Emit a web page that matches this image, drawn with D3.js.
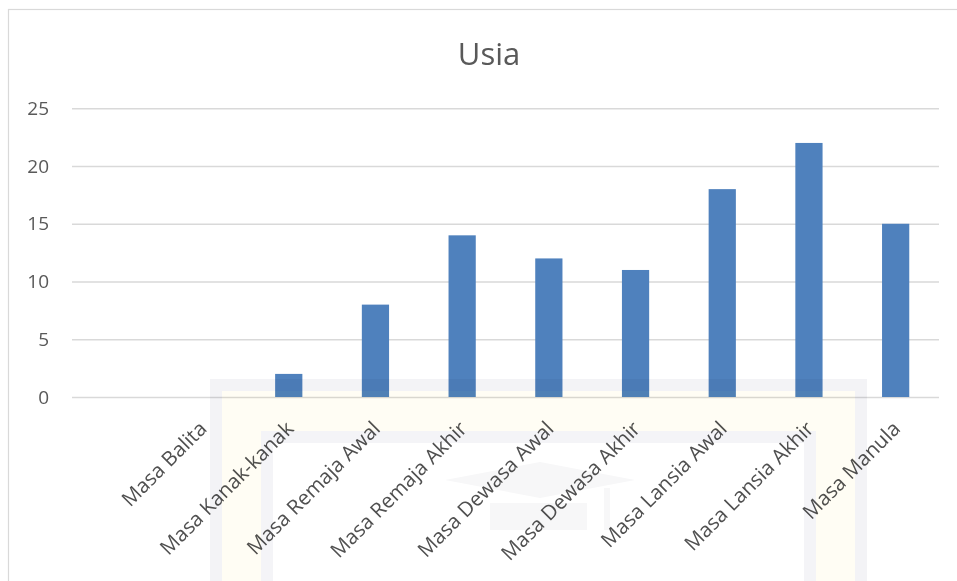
<!DOCTYPE html>
<html>
<head>
<meta charset="utf-8">
<script src="https://cdn.jsdelivr.net/npm/d3@7"></script>
<style>
  html, body { margin: 0; padding: 0; background: #fff; }
  svg { display: block; }
  text { font-family: "Open Sans", "DejaVu Sans", sans-serif; }
</style>
</head>
<body>
<svg id="chart" width="957" height="581"></svg>
<script>
const title = "Usia";
const categories = ["Masa Balita", "Masa Kanak-kanak", "Masa Remaja Awal", "Masa Remaja Akhir",
  "Masa Dewasa Awal", "Masa Dewasa Akhir", "Masa Lansia Awal", "Masa Lansia Akhir", "Masa Manula"];
const values = [0, 2, 8, 14, 12, 11, 18, 22, 15];
const yTicks = [0, 5, 10, 15, 20, 25];

const svg = d3.select("#chart");

const plotLeft = 72, plotRight = 939;
const yBottom = 397, yTop = 108.3;

// chart area border
svg.append("rect")
  .attr("x", 8.5).attr("y", 9.5)
  .attr("width", 980).attr("height", 620)
  .attr("fill", "#fff").attr("stroke", "#d9d9d9").attr("stroke-width", 1.2);

// title
svg.append("text")
  .attr("x", 489).attr("y", 65)
  .attr("text-anchor", "middle")
  .attr("font-size", 31)
  .attr("fill", "#595959")
  .text(title);

const y = d3.scaleLinear().domain([0, 25]).range([yBottom, yTop]);
const step10 = (plotRight - plotLeft) / 10;
const x = d3.scaleBand()
  .domain(categories)
  .range([plotLeft + step10, plotRight])
  .paddingInner(0.686)
  .paddingOuter(0.343);

// gridlines + y labels via axis
const yAxis = d3.axisLeft(y).tickValues(yTicks).tickSize(-(plotRight - plotLeft)).tickPadding(23);
const gy = svg.append("g").attr("transform", `translate(${plotLeft},0)`).call(yAxis);
gy.select(".domain").remove();
gy.selectAll(".tick line").attr("stroke", "#d9d9d9").attr("stroke-width", 1.5);
gy.selectAll(".tick text").attr("fill", "#595959").attr("font-size", 19)
  .attr("font-family", "'Open Sans', sans-serif");

// bars
svg.append("g").selectAll("rect")
  .data(categories.map((c, i) => ({ c, v: values[i] })))
  .join("rect")
  .attr("x", d => x(d.c))
  .attr("y", d => y(d.v))
  .attr("width", x.bandwidth())
  .attr("height", d => y(0) - y(d.v))
  .attr("fill", "#4f81bd");

// x axis labels
const xAxis = d3.axisBottom(x).tickSize(0).tickPadding(0);
const gx = svg.append("g").attr("transform", `translate(0,${yBottom})`).call(xAxis);
gx.select(".domain").remove();
gx.selectAll(".tick text")
  .attr("fill", "#505050").attr("font-size", 20.5)
  .attr("font-family", "'Open Sans', sans-serif")
  .attr("text-anchor", "end")
  .attr("dy", 0)
  .attr("transform", "translate(6,33) rotate(-45)");

// faint watermark overlay
const wm = svg.append("g").style("mix-blend-mode", "multiply").attr("pointer-events", "none");
wm.append("rect").attr("x", 216).attr("y", 385).attr("width", 645).attr("height", 260)
  .attr("fill", "#fffdf4").attr("stroke", "#f3f3f6").attr("stroke-width", 12);
wm.append("rect").attr("x", 267).attr("y", 437).attr("width", 543).attr("height", 200)
  .attr("fill", "#ffffff").attr("stroke", "#f4f4f7").attr("stroke-width", 12);
wm.append("polygon")
  .attr("points", "445,480 540,462 635,480 540,498")
  .attr("fill", "#f7f7f8");
wm.append("rect").attr("x", 490).attr("y", 503).attr("width", 97).attr("height", 27)
  .attr("fill", "#f7f7f8");
wm.append("rect").attr("x", 604).attr("y", 488).attr("width", 6).attr("height", 42)
  .attr("fill", "#f7f7f8");
</script>
</body>
</html>
